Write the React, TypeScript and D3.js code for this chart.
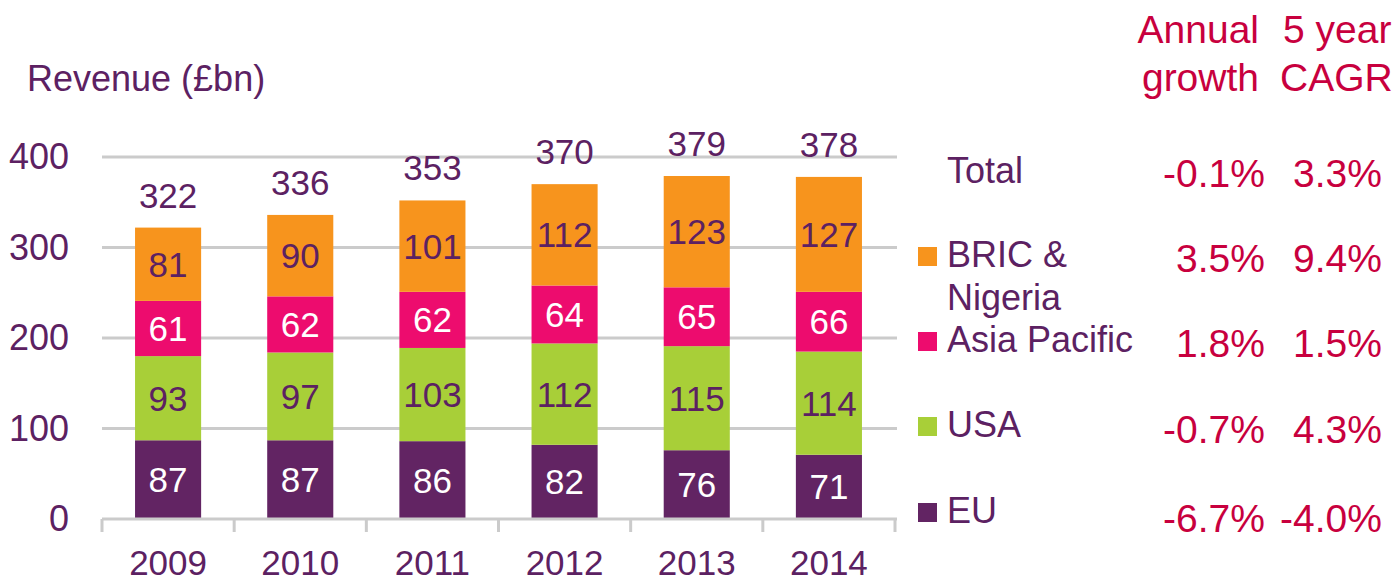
import React from "react";
import * as d3 from "d3";

const years = ["2009", "2010", "2011", "2012", "2013", "2014"];
const seriesNames = ["EU", "USA", "Asia Pacific", "BRIC & Nigeria"];
const euValues = [87, 87, 86, 82, 76, 71];
const usaValues = [93, 97, 103, 112, 115, 114];
const asiaValues = [61, 62, 62, 64, 65, 66];
const bricValues = [81, 90, 101, 112, 123, 127];
const totals = [322, 336, 353, 370, 379, 378];
const yTicks = [0, 100, 200, 300, 400];

const legendRows = ["Total", "BRIC & Nigeria", "Asia Pacific", "USA", "EU"];
const annualGrowth = ["-0.1%", "3.5%", "1.8%", "-0.7%", "-6.7%"];
const cagr = ["3.3%", "9.4%", "1.5%", "4.3%", "-4.0%"];

const colors: Record<string, string> = {
  EU: "#622463",
  USA: "#a8cf38",
  "Asia Pacific": "#ed0c6e",
  "BRIC & Nigeria": "#f7941d",
};
const labelColors: Record<string, string> = {
  EU: "#ffffff",
  USA: "#5c2162",
  "Asia Pacific": "#ffffff",
  "BRIC & Nigeria": "#5c2162",
};

const PURPLE = "#5c2162";
const RED = "#c8003e";
const GRID = "#cbcbcb";
const FONT = "'Liberation Sans', Arial, sans-serif";

export default function App() {
  const W = 1393;
  const H = 581;
  const x = d3
    .scaleBand<string>()
    .domain(years)
    .range([102, 895])
    .paddingInner(0.5)
    .paddingOuter(0.25);
  const y = d3.scaleLinear().domain([0, 400]).range([519, 157]);

  const table = years.map((yr, i) => ({
    year: yr,
    EU: euValues[i],
    USA: usaValues[i],
    "Asia Pacific": asiaValues[i],
    "BRIC & Nigeria": bricValues[i],
  }));
  const stack = d3.stack<any>().keys(seriesNames)(table);

  const step = x.step();
  const tickXs = d3.range(years.length + 1).map((i) => 102 + i * step);

  const legendTextY = [183, 267, 352, 437, 523];
  const valueY = [187, 272, 357, 443, 532];

  return (
    <svg width={W} height={H} style={{ display: "block", position: "absolute", left: 0, top: 0 }} fontFamily={FONT}>
      <defs>
        <clipPath id="legendClip">
          <rect x={900} y={0} width={239} height={H} />
        </clipPath>
      </defs>
      <rect width={W} height={H} fill="#fff" />
      <text x={27} y={91} fontSize={36} fill={PURPLE}>
        Revenue (£bn)
      </text>
      {yTicks.map((t) => (
        <g key={t}>
          {t > 0 && <line x1={102} x2={897} y1={y(t)} y2={y(t)} stroke={GRID} strokeWidth={3} />}
          <text x={69} y={y(t) + 12} fontSize={36} textAnchor="end" fill={PURPLE}>
            {t}
          </text>
        </g>
      ))}
      {stack.map((s) => (
        <g key={s.key}>
          {s.map((d, i) => {
            const x0 = x(years[i])!;
            const y0 = y(d[1]);
            const y1 = y(d[0]);
            return (
              <g key={i}>
                <rect x={x0} y={y0} width={x.bandwidth()} height={y1 - y0} fill={colors[s.key]} />
                <text
                  x={x0 + x.bandwidth() / 2}
                  y={(y0 + y1) / 2 + 12.5}
                  fontSize={35}
                  textAnchor="middle"
                  fill={labelColors[s.key]}
                >
                  {d[1] - d[0]}
                </text>
              </g>
            );
          })}
        </g>
      ))}
      <line x1={102} x2={897} y1={y(0)} y2={y(0)} stroke={GRID} strokeWidth={3} />
      {tickXs.map((tx, i) => (
        <line key={i} x1={tx} x2={tx} y1={y(0)} y2={532} stroke={GRID} strokeWidth={3} />
      ))}
      {years.map((yr, i) => (
        <g key={yr}>
          <text x={x(yr)! + x.bandwidth() / 2} y={575} fontSize={35} textAnchor="middle" fill={PURPLE}>
            {yr}
          </text>
          <text
            x={x(yr)! + x.bandwidth() / 2}
            y={y(totals[i]) - 20}
            fontSize={35}
            textAnchor="middle"
            fill={PURPLE}
          >
            {totals[i]}
          </text>
        </g>
      ))}
      <text x={1259} y={43} fontSize={39} textAnchor="end" fill={RED}>Annual</text>
      <text x={1259} y={91} fontSize={39} textAnchor="end" fill={RED}>growth</text>
      <text x={1283} y={43} fontSize={39} fill={RED}>5 year</text>
      <text x={1280} y={91} fontSize={39} fill={RED}>CAGR</text>
      {legendRows.map((name, i) => (
        <g key={name}>
          {name !== "Total" && (
            <rect x={918} y={legendTextY[i] - 20} width={19} height={19} fill={colors[name]} />
          )}
          {name === "BRIC & Nigeria" ? (
            <text x={947} y={legendTextY[i]} fontSize={36} fill={PURPLE}>
              <tspan x={947}>BRIC &amp;</tspan>
              <tspan x={947} dy={43}>Nigeria</tspan>
            </text>
          ) : (
            <text x={947} y={legendTextY[i]} fontSize={36} fill={PURPLE} clipPath="url(#legendClip)">
              {name}
            </text>
          )}
          <text x={1265} y={valueY[i]} fontSize={39} textAnchor="end" fill={RED}>
            {annualGrowth[i]}
          </text>
          <text x={1382} y={valueY[i]} fontSize={39} textAnchor="end" fill={RED}>
            {cagr[i]}
          </text>
        </g>
      ))}
    </svg>
  );
}
